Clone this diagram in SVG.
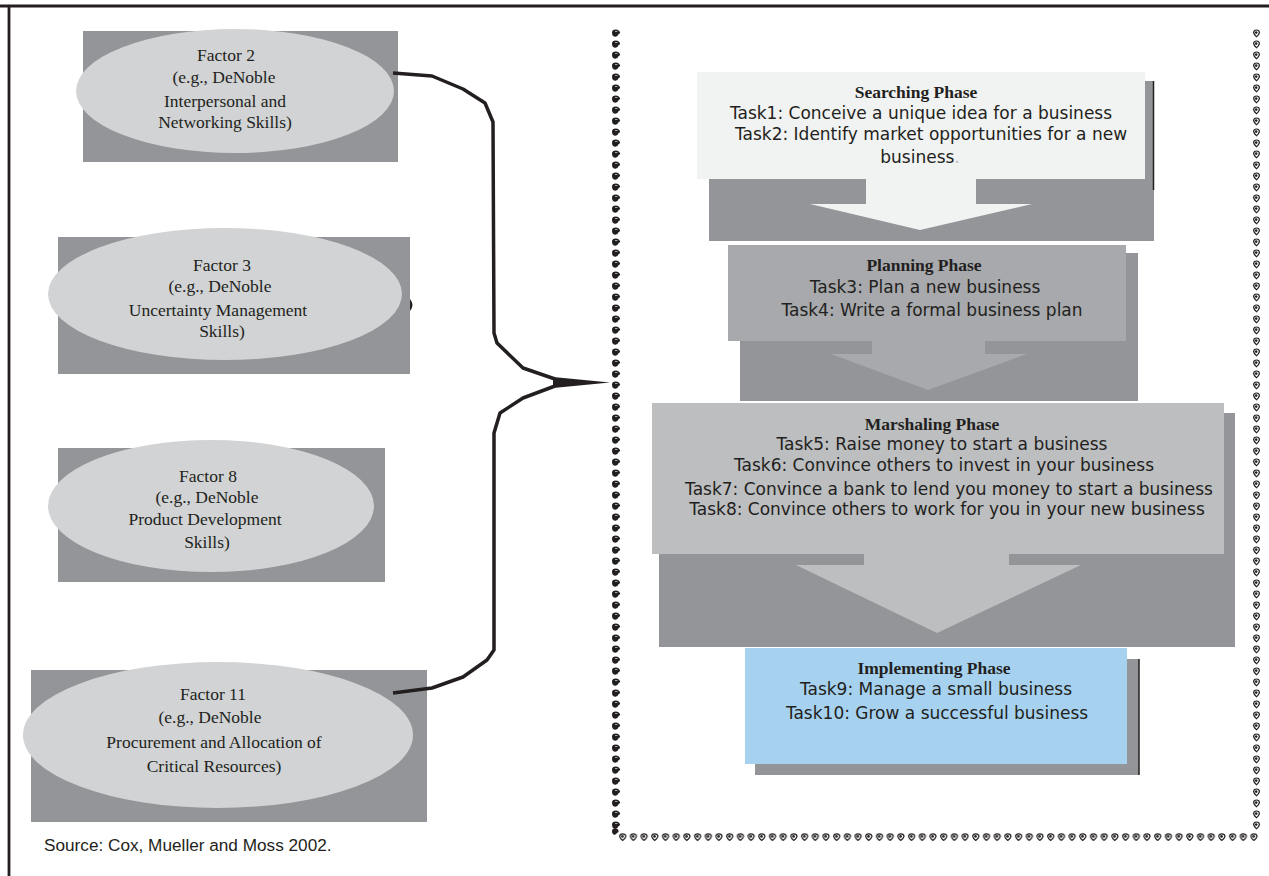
<svg xmlns="http://www.w3.org/2000/svg" width="1269" height="876" viewBox="0 0 1269 876">
<style>
.fr{fill:#939598}
.el{fill:#d1d3d4}
.ft{font-family:"Liberation Serif","Times New Roman",serif;font-size:17.5px;fill:#231f20;text-anchor:middle}
.pt{font-family:"Liberation Serif","Times New Roman",serif;font-size:17.5px;font-weight:bold;fill:#231f20;text-anchor:middle}
.tk{font-family:"DejaVu Sans","Liberation Sans",sans-serif;font-size:17px;fill:#231f20;text-anchor:middle}
.sh{fill:#939598}
.con{fill:none;stroke:#231f20;stroke-width:3.5;stroke-linejoin:round;stroke-linecap:butt}
</style>
<defs>
<pattern id="dotL" patternUnits="userSpaceOnUse" x="611" y="28" width="10" height="11">
<path d="M1,4.8 Q1,1.5 4.8,1.5 Q8.5,1.5 9.2,5 L7.5,6.2 Q6.3,9.3 3.8,8.8 Q1,8.2 1,4.8Z" fill="#231f20"/>
<path d="M4,3.5 L6.5,3.5" stroke="#fff" stroke-width="0.6"/>
</pattern>
<pattern id="dotR" patternUnits="userSpaceOnUse" x="1252" y="28" width="9" height="11">
<path d="M1.6,4.5 Q1.8,2 4.5,2 Q7.4,2 7.4,4.8 Q6.6,7.2 4.5,8.8 Q2.2,7.2 1.6,4.5Z" fill="#fff" stroke="#231f20" stroke-width="1.2"/>
<circle cx="4.2" cy="4.6" r="1.3" fill="#231f20"/>
</pattern>
<pattern id="dotB" patternUnits="userSpaceOnUse" x="618" y="832" width="10.7" height="9">
<path d="M1.6,4.3 Q1.8,1.8 4.6,1.8 Q7.6,1.8 7.8,4.5 Q6.9,7 4.6,8.4 Q2.3,7 1.6,4.3Z" fill="#fff" stroke="#231f20" stroke-width="1.2"/>
<circle cx="4.4" cy="4.4" r="1.3" fill="#231f20"/>
</pattern>
</defs>
<rect width="1269" height="876" fill="#fff"/>

<g id="frame">
<line x1="0" y1="6" x2="1269" y2="6" stroke="#231f20" stroke-width="2.8"/>
<line x1="9" y1="5" x2="9" y2="876" stroke="#231f20" stroke-width="2.8"/>
<rect x="611" y="28" width="10" height="803" fill="url(#dotL)"/>
<path d="M612,831 Q612.5,828 615.5,828.3 Q619,829 618.5,832 L617,833 Q615.5,835.5 613.5,834.5 Q611.8,833.5 612,831Z" fill="#231f20"/>
<rect x="1252" y="28" width="9" height="803" fill="url(#dotR)"/>
<rect x="618" y="832" width="642" height="9" fill="url(#dotB)"/>
</g>

<g id="factor2">
<rect class="fr" x="83" y="31" width="315" height="131"/>
<ellipse class="el" cx="235" cy="91" rx="159" ry="62"/>
<text class="ft" x="226" y="61">Factor 2</text>
<text class="ft" x="224" y="83">(e.g.,  DeNoble</text>
<text class="ft" x="225" y="107">Interpersonal and</text>
<text class="ft" x="225" y="128">Networking Skills)</text>
</g>

<g id="factor3">
<rect class="fr" x="58" y="237" width="352" height="137"/>
<ellipse class="el" cx="225" cy="294" rx="177" ry="66"/>
<path d="M410,299 Q415,305 410,311Z" fill="#231f20"/>
<text class="ft" x="222" y="271">Factor 3</text>
<text class="ft" x="220" y="292">(e.g.,  DeNoble</text>
<text class="ft" x="218" y="316">Uncertainty Management</text>
<text class="ft" x="222" y="337">Skills)</text>
</g>

<g id="factor8">
<rect class="fr" x="58" y="448" width="327" height="134"/>
<ellipse class="el" cx="211" cy="506" rx="163" ry="66"/>
<text class="ft" x="208" y="482">Factor 8</text>
<text class="ft" x="207" y="503">(e.g.,  DeNoble</text>
<text class="ft" x="205" y="525">Product Development</text>
<text class="ft" x="207" y="548">Skills)</text>
</g>

<g id="factor11">
<rect class="fr" x="31" y="670" width="396" height="152"/>
<ellipse class="el" cx="218" cy="735" rx="195" ry="73"/>
<text class="ft" x="213" y="700">Factor 11</text>
<text class="ft" x="210" y="723">(e.g., DeNoble</text>
<text class="ft" x="214" y="748">Procurement and Allocation of</text>
<text class="ft" x="214" y="772">Critical Resources)</text>
</g>

<g id="connectors">
<path class="con" d="M393,73 L432,76 L463,89 L485,103 L493,122 L494,333 L497,343 L523,368 L555,379"/>
<path class="con" d="M555,386 L523,398 L500,413 L494,433 L494,650 L487,660 L463,677 L432,688 L393,693"/>
<path d="M553,377 L610,382.5 L553,388Z" fill="#231f20"/>
</g>

<g id="searching">
<rect class="sh" x="709" y="81" width="445" height="160"/>
<line x1="1153.5" y1="81" x2="1153.5" y2="190" stroke="#231f20" stroke-width="1.5"/>
<rect x="697" y="72" width="448" height="107" fill="#f1f2f2"/>
<path d="M866,178 L976,178 L976,204 L1032,204 L920,230 L810,204 L866,204Z" fill="#f1f2f2"/>
<text class="pt" x="916" y="98">Searching Phase</text>
<text class="tk" x="921" y="119">Task1: Conceive a unique idea for a business</text>
<text class="tk" x="931" y="140">Task2: Identify market opportunities for a new</text>
<text class="tk" x="920" y="163">business<tspan fill="#bcbec0">.</tspan></text>
</g>

<g id="planning">
<rect class="sh" x="740" y="253" width="398" height="148"/>
<rect x="728" y="245" width="398" height="96" fill="#a7a9ac"/>
<path d="M872,340 L985,340 L985,354 L1027,354 L928,390 L831,354 L872,354Z" fill="#a7a9ac"/>
<text class="pt" x="924" y="271">Planning Phase</text>
<text class="tk" x="925" y="293">Task3: Plan a new business</text>
<text class="tk" x="932" y="316">Task4: Write a formal business plan</text>
</g>

<g id="marshaling">
<rect class="sh" x="659" y="413" width="576" height="234"/>
<rect x="652" y="403" width="572" height="151" fill="#bcbec0"/>
<path d="M864,553 L1009,553 L1009,565 L1081,565 L937,633 L796,565 L864,565Z" fill="#bcbec0"/>
<text class="pt" x="932" y="430">Marshaling Phase</text>
<text class="tk" x="942" y="450">Task5: Raise money to start a business</text>
<text class="tk" x="944" y="471">Task6: Convince others to invest in your business</text>
<text class="tk" x="949" y="495">Task7: Convince a bank to lend you money to start a business</text>
<text class="tk" x="947" y="515">Task8: Convince others to work for you in your new business</text>
</g>

<g id="implementing">
<rect class="sh" x="755" y="659" width="384" height="116"/>
<line x1="1139" y1="659" x2="1139" y2="775" stroke="#231f20" stroke-width="1.5"/>
<rect x="745" y="648" width="382" height="116" fill="#a6d2f0"/>
<text class="pt" x="934" y="674">Implementing Phase</text>
<text class="tk" x="936" y="695">Task9: Manage a small business</text>
<text class="tk" x="937" y="719">Task10: Grow a successful business</text>
</g>

<g id="source">
<text x="44" y="851" font-family="'Liberation Sans',Arial,sans-serif" font-size="17.2" fill="#231f20">Source: Cox, Mueller and Moss 2002.</text>
</g>
</svg>
